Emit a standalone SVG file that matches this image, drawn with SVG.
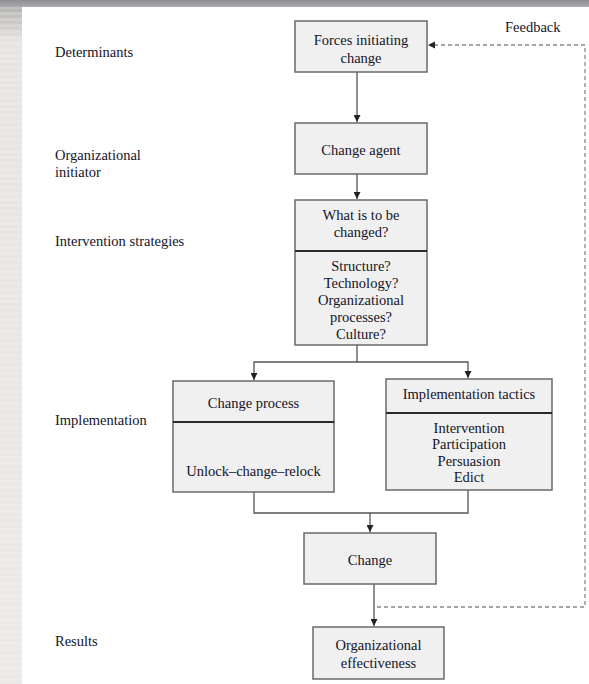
<svg xmlns="http://www.w3.org/2000/svg" width="589" height="684" viewBox="0 0 589 684">
<defs>
<linearGradient id="topbar" x1="0" y1="0" x2="0" y2="1">
<stop offset="0" stop-color="#8c8e93"/>
<stop offset="1" stop-color="#a9abaf"/>
</linearGradient>
<linearGradient id="leftband" x1="0" y1="0" x2="0" y2="1">
<stop offset="0" stop-color="#a9a8a6"/>
<stop offset="0.06" stop-color="#e6e4e1"/>
<stop offset="1" stop-color="#ebe9e6"/>
</linearGradient>
<pattern id="stripes" width="22" height="6" patternUnits="userSpaceOnUse">
<rect width="22" height="3" fill="#ffffff" fill-opacity="0.18"/>
</pattern>
<marker id="arr" viewBox="0 0 10 10" refX="10" refY="5" markerWidth="7" markerHeight="7" orient="auto" markerUnits="userSpaceOnUse">
<path d="M0,0 L10,5 L0,10 z" fill="#222"/>
</marker>
</defs>
<style>
.lbl{font-family:"Liberation Serif","Times New Roman",serif;font-size:14.5px;fill:#141428}
.ctr{text-anchor:middle}
.box{fill:#f0f0f0;stroke:#6a6a6a;stroke-width:1.5}
.div{stroke:#2a2a2a;stroke-width:2}
.con{fill:none;stroke:#555;stroke-width:1.3}
.dash{fill:none;stroke:#888;stroke-width:1.3;stroke-dasharray:4 3}
</style>
<rect width="589" height="684" fill="#ffffff"/>
<rect x="0" y="0" width="22" height="684" fill="url(#leftband)"/>
<rect x="0" y="0" width="22" height="684" fill="url(#stripes)"/>
<rect x="0" y="0" width="589" height="7" fill="url(#topbar)"/>

<g id="left-labels">
<text class="lbl" x="55" y="57">Determinants</text>
<text class="lbl" x="55" y="160">Organizational</text>
<text class="lbl" x="55" y="177">initiator</text>
<text class="lbl" x="55" y="246">Intervention strategies</text>
<text class="lbl" x="55" y="425">Implementation</text>
<text class="lbl" x="55" y="646">Results</text>
<text class="lbl" x="505" y="32">Feedback</text>
</g>

<g id="connectors">
<line class="con" x1="357" y1="72" x2="357" y2="122" marker-end="url(#arr)"/>
<line class="con" x1="357" y1="174" x2="357" y2="199" marker-end="url(#arr)"/>
<polyline class="con" points="357,345 357,362 254,362 254,380" marker-end="url(#arr)"/>
<polyline class="con" points="357,362 468,362 468,378" marker-end="url(#arr)"/>
<polyline class="con" points="254,492 254,513 468,513 468,490"/>
<line class="con" x1="370" y1="513" x2="370" y2="532" marker-end="url(#arr)"/>
<line class="con" x1="374" y1="584" x2="374" y2="626" marker-end="url(#arr)"/>
<polyline class="dash" points="377,607 585,607 585,45 430,45"/>
<path d="M428,45 L435,41.5 L435,48.5 z" fill="#222"/>
</g>

<g id="forces">
<rect class="box" x="295" y="21" width="132" height="51"/>
<text class="lbl ctr" x="361" y="45">Forces initiating</text>
<text class="lbl ctr" x="361" y="63">change</text>
</g>

<g id="agent">
<rect class="box" x="295" y="123" width="132" height="51"/>
<text class="lbl ctr" x="361" y="155">Change agent</text>
</g>

<g id="what">
<rect class="box" x="295" y="200" width="132" height="145"/>
<line class="div" x1="295" y1="251" x2="427" y2="251"/>
<text class="lbl ctr" x="361" y="220">What is to be</text>
<text class="lbl ctr" x="361" y="237">changed?</text>
<text class="lbl ctr" x="361" y="271">Structure?</text>
<text class="lbl ctr" x="361" y="288">Technology?</text>
<text class="lbl ctr" x="361" y="305">Organizational</text>
<text class="lbl ctr" x="361" y="322">processes?</text>
<text class="lbl ctr" x="361" y="339">Culture?</text>
</g>

<g id="process">
<rect class="box" x="173" y="381" width="161" height="111"/>
<line class="div" x1="173" y1="422" x2="334" y2="422"/>
<text class="lbl ctr" x="253.5" y="408">Change process</text>
<text class="lbl ctr" x="253.5" y="476">Unlock–change–relock</text>
</g>

<g id="tactics">
<rect class="box" x="386" y="379" width="166" height="111"/>
<line class="div" x1="386" y1="413" x2="552" y2="413"/>
<text class="lbl ctr" x="469" y="399">Implementation tactics</text>
<text class="lbl ctr" x="469" y="433">Intervention</text>
<text class="lbl ctr" x="469" y="449">Participation</text>
<text class="lbl ctr" x="469" y="466">Persuasion</text>
<text class="lbl ctr" x="469" y="482">Edict</text>
</g>

<g id="change">
<rect class="box" x="304" y="533" width="132" height="51"/>
<text class="lbl ctr" x="370" y="565">Change</text>
</g>

<g id="effectiveness">
<rect class="box" x="313" y="627" width="131" height="52"/>
<text class="lbl ctr" x="378.5" y="650">Organizational</text>
<text class="lbl ctr" x="378.5" y="668">effectiveness</text>
</g>
</svg>
